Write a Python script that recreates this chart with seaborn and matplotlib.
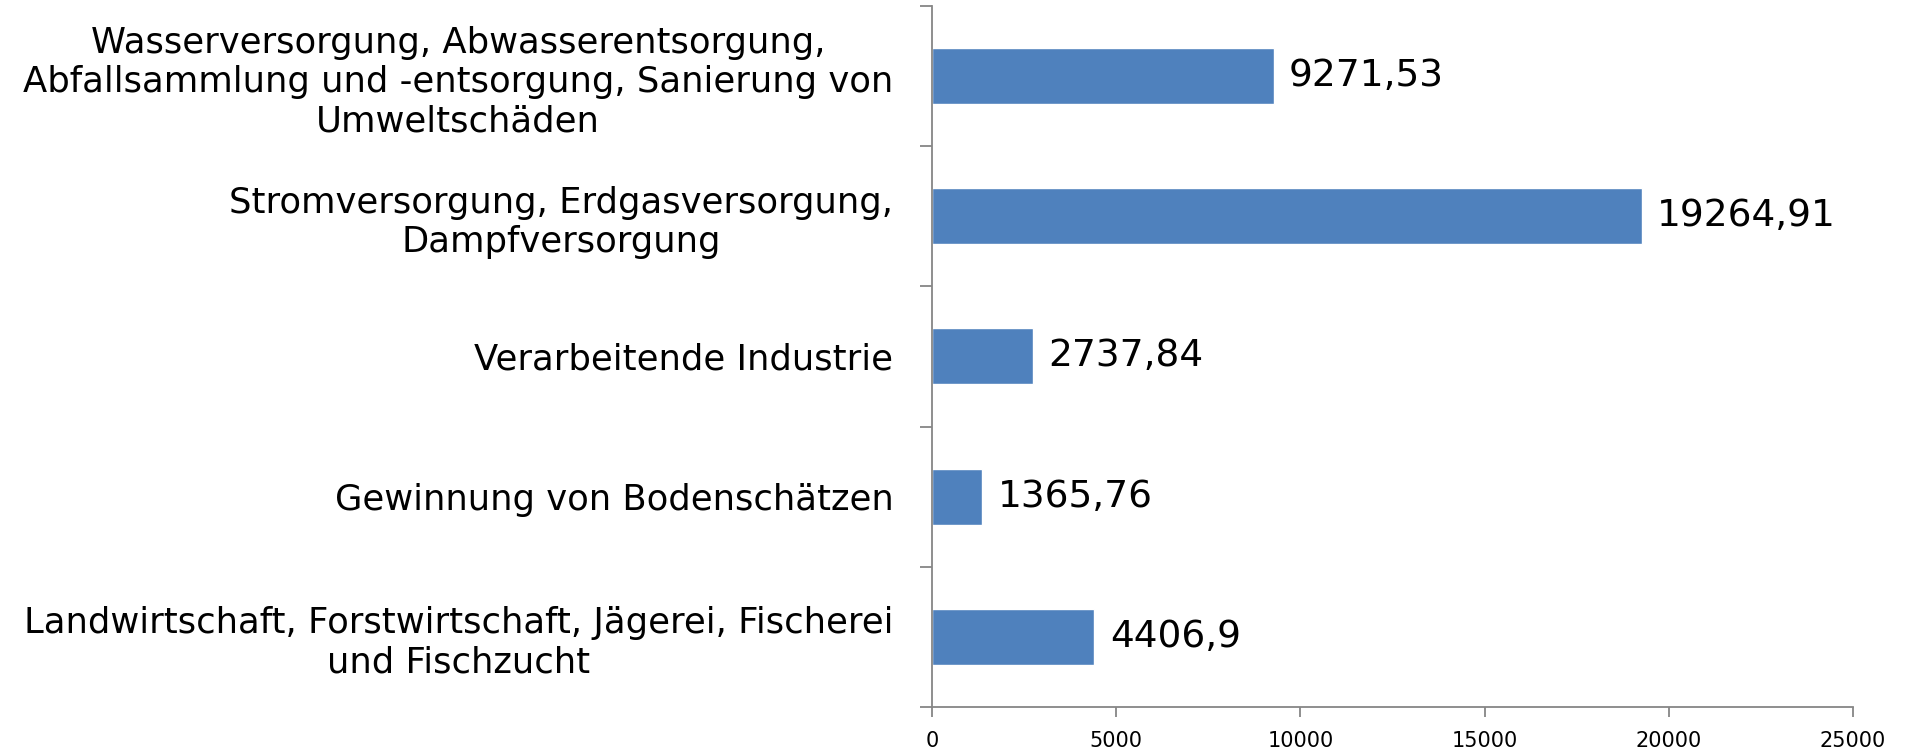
import matplotlib
matplotlib.use("Agg")
import matplotlib.pyplot as plt
import seaborn as sns
import pandas as pd
from matplotlib.ticker import FixedLocator

categories = [
    "Wasserversorgung, Abwasserentsorgung,\nAbfallsammlung und -entsorgung, Sanierung von\nUmweltschäden",
    "Stromversorgung, Erdgasversorgung,\nDampfversorgung",
    "Verarbeitende Industrie",
    "Gewinnung von Bodenschätzen",
    "Landwirtschaft, Forstwirtschaft, Jägerei, Fischerei\nund Fischzucht",
]
values = [9271.53, 19264.91, 2737.84, 1365.76, 4406.9]
value_labels = ["9271,53", "19264,91", "2737,84", "1365,76", "4406,9"]
x_ticks = [0, 5000, 10000, 15000, 20000, 25000]

sns.set_theme(style="white")
plt.rcParams["font.family"] = ["DejaVu Sans"]

df = pd.DataFrame({"cat": categories, "val": values})

fig = plt.figure(figsize=(19.18, 7.54), dpi=100)
ax = fig.add_axes([0.486, 0.0623, 0.480, 0.930])

sns.barplot(data=df, y="cat", x="val", orient="h", color="#4F81BD",
            saturation=1, width=0.4, ax=ax)

ax.set_xlim(0, 25000)
ax.set_ylim(len(categories) - 0.5, -0.5)
ax.set_xticks(x_ticks)
ax.set_xticklabels([str(t) for t in x_ticks], fontsize=15)
ax.set_xlabel("")
ax.set_ylabel("")

for lbl in ax.get_yticklabels():
    lbl.set_multialignment("center")
    lbl.set_fontsize(25.5)

for sp in ["top", "right"]:
    ax.spines[sp].set_visible(False)
for sp in ["left", "bottom"]:
    ax.spines[sp].set_color("#868686")
    ax.spines[sp].set_linewidth(1.3)

ax.tick_params(axis="x", bottom=True, length=7, width=1.3, color="#868686",
               direction="out", pad=10, labelcolor="black")
ax.tick_params(axis="y", which="major", left=False, length=0, pad=28,
               labelcolor="black")
ax.yaxis.set_minor_locator(FixedLocator([i - 0.5 for i in range(len(categories) + 1)]))
ax.tick_params(axis="y", which="minor", left=True, length=8.5, width=1.3,
               color="#868686", direction="out")

ax.bar_label(ax.containers[0], labels=value_labels, padding=11, fontsize=27,
             color="black")

fig.savefig("out.png", dpi=100)
